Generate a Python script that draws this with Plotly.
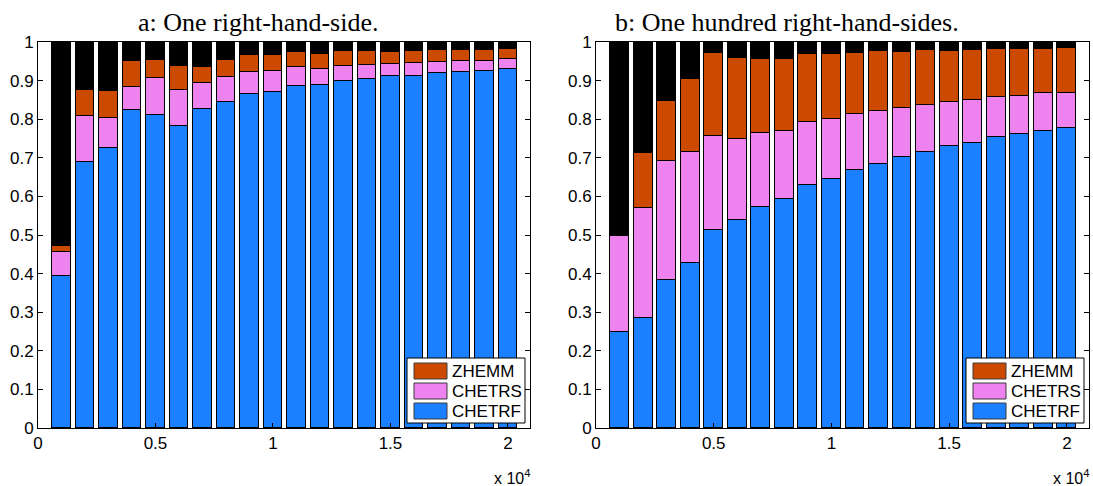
import plotly.graph_objects as go

W, H = 1093, 486

sizes = [1000, 2000, 3000, 4000, 5000, 6000, 7000, 8000, 9000, 10000,
         11000, 12000, 13000, 14000, 15000, 16000, 17000, 18000, 19000, 20000]

series_names = ["CHETRF", "CHETRS", "ZHEMM"]

# Panel a: one right-hand side (fraction of total time)
a_chetrf = [0.394, 0.689, 0.726, 0.824, 0.810, 0.782, 0.827, 0.845, 0.865, 0.870,
            0.886, 0.888, 0.898, 0.905, 0.911, 0.913, 0.920, 0.921, 0.925, 0.929]
a_chetrs = [0.061, 0.120, 0.077, 0.059, 0.096, 0.094, 0.066, 0.064, 0.057, 0.054,
            0.048, 0.043, 0.039, 0.036, 0.033, 0.032, 0.029, 0.029, 0.026, 0.026]
a_zhemm = [0.017, 0.067, 0.069, 0.068, 0.047, 0.063, 0.042, 0.045, 0.045, 0.042,
           0.040, 0.038, 0.039, 0.035, 0.031, 0.031, 0.031, 0.028, 0.029, 0.028]

# Panel b: one hundred right-hand sides
b_chetrf = [0.248, 0.285, 0.383, 0.427, 0.514, 0.540, 0.573, 0.592, 0.629, 0.645,
            0.668, 0.684, 0.702, 0.716, 0.731, 0.738, 0.753, 0.761, 0.770, 0.777]
b_chetrs = [0.250, 0.286, 0.309, 0.287, 0.243, 0.210, 0.192, 0.178, 0.165, 0.156,
            0.145, 0.138, 0.128, 0.122, 0.114, 0.111, 0.105, 0.100, 0.097, 0.092]
b_zhemm = [0.000, 0.142, 0.154, 0.191, 0.214, 0.209, 0.192, 0.187, 0.174, 0.168,
           0.158, 0.154, 0.144, 0.140, 0.132, 0.130, 0.125, 0.120, 0.115, 0.115]

titles = ["a: One right-hand-side.", "b: One hundred right-hand-sides."]
x_tickvals = [0, 5000, 10000, 15000, 20000]
x_ticktext = ["0", "0.5", "1", "1.5", "2"]
y_tickvals = [0, 0.1, 0.2, 0.3, 0.4, 0.5, 0.6, 0.7, 0.8, 0.9, 1.0]
y_ticktext = ["0", "0.1", "0.2", "0.3", "0.4", "0.5", "0.6", "0.7", "0.8", "0.9", "1"]

colors = {"CHETRF": "#1a80ff", "CHETRS": "#ee82ee", "ZHEMM": "#cc4a00", "other": "#000000"}


def px(x):
    return x / W


def py(y):
    return 1 - y / H


panels = [
    dict(data=[a_chetrf, a_chetrs, a_zhemm], x0=38, x1=530, xa="x", ya="y", title_cx=258),
    dict(data=[b_chetrf, b_chetrs, b_zhemm], x0=596, x1=1089, xa="x2", ya="y2", title_cx=787),
]
top, bottom = 42, 428

fig = go.Figure()
for p in panels:
    vals = p["data"]
    other = [round(1 - sum(v[i] for v in vals), 4) for i in range(len(sizes))]
    for name, v in zip(series_names + ["other"], vals + [other]):
        fig.add_trace(go.Bar(
            x=sizes, y=v, name=name, width=800,
            marker=dict(color=colors[name], line=dict(color="#000000", width=1)),
            xaxis=p["xa"], yaxis=p["ya"], showlegend=False,
        ))

axis_common = dict(
    showgrid=False, zeroline=False, showline=True, linecolor="black", linewidth=1,
    mirror="ticks", ticks="inside", ticklen=5, tickcolor="black", automargin=False,
    tickfont=dict(family="Liberation Sans, Arial", size=17, color="black"),
)

layout = dict(
    template="none",
    width=W, height=H, margin=dict(l=0, r=0, t=0, b=0, pad=0),
    paper_bgcolor="white", plot_bgcolor="white", barmode="stack", bargap=0,
    showlegend=False,
)
for i, p in enumerate(panels):
    sx = "" if i == 0 else "2"
    layout["xaxis" + sx] = dict(
        axis_common, domain=[px(p["x0"]), px(p["x1"])], range=[0, 20940],
        tickvals=x_tickvals, ticktext=x_ticktext, anchor="y" + sx,
    )
    layout["yaxis" + sx] = dict(
        axis_common, domain=[py(bottom), py(top)], range=[0, 1],
        tickvals=y_tickvals, ticktext=y_ticktext, anchor="x" + sx,
    )
fig.update_layout(**layout)

shapes = []
annotations = []
for i, p in enumerate(panels):
    # title
    annotations.append(dict(
        x=px(p["title_cx"]), y=py(22), xref="paper", yref="paper",
        text=titles[i], showarrow=False, xanchor="center", yanchor="middle",
        font=dict(family="Liberation Serif, Times New Roman", size=26, color="black"),
    ))
    # x 10^4 multiplier
    annotations.append(dict(
        x=px(p["x1"] + 2), y=py(477), xref="paper", yref="paper",
        text="x 10<sup>4</sup>", showarrow=False, xanchor="right", yanchor="middle",
        font=dict(family="Liberation Sans, Arial", size=16, color="black"),
    ))
    # legend box
    lx1 = p["x1"] - 5
    lx0 = lx1 - 118
    ly0, ly1 = 358, 423
    shapes.append(dict(type="rect", xref="paper", yref="paper",
                       x0=px(lx0), x1=px(lx1), y0=py(ly1), y1=py(ly0),
                       fillcolor="white", line=dict(color="black", width=1)))
    for k, name in enumerate(["ZHEMM", "CHETRS", "CHETRF"]):
        sy0 = 363 + k * 20
        shapes.append(dict(type="rect", xref="paper", yref="paper",
                           x0=px(lx0 + 7), x1=px(lx0 + 40), y0=py(sy0 + 16), y1=py(sy0),
                           fillcolor=colors[name], line=dict(color="#3a3a3a", width=1)))
        annotations.append(dict(
            x=px(lx0 + 43), y=py(sy0 + 8), xref="paper", yref="paper",
            text=name, showarrow=False, xanchor="left", yanchor="middle",
            font=dict(family="Liberation Sans, Arial", size=17, color="black"),
        ))

fig.update_layout(shapes=shapes, annotations=annotations)
fig.write_html("out.html", config={"displayModeBar": False},
               post_script="document.body.style.margin='0px';")
